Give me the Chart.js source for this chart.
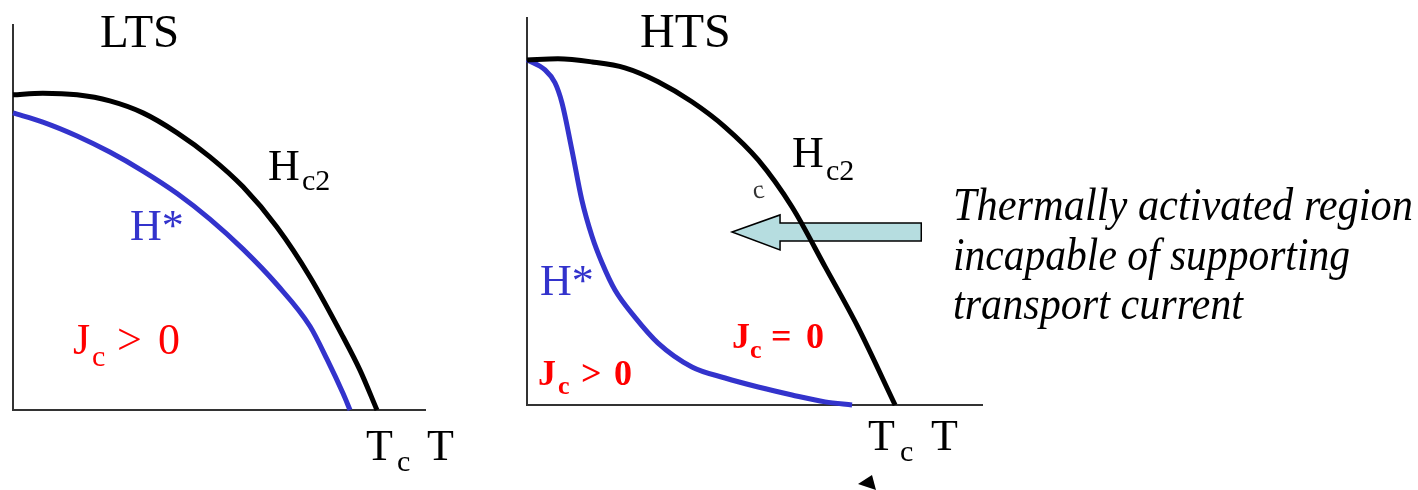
<!DOCTYPE html>
<html>
<head>
<meta charset="utf-8">
<script src="https://cdn.jsdelivr.net/npm/chart.js@4/dist/chart.umd.min.js"></script>
<style>
  html, body { margin: 0; padding: 0; background: #fff; }
  body { width: 1418px; height: 490px; position: relative; overflow: hidden; }
  .layer { position: absolute; left: 0; top: 0; width: 1418px; height: 490px; }
</style>
</head>
<body>
<div class="layer"><canvas id="ltsChart"></canvas></div>
<div class="layer"><canvas id="htsChart"></canvas></div>

<script>
// reduced units: T / Tc along x, H / Hc2(0) along y

// LTS: upper critical field and irreversibility line sit close together
const ltsHc2T = [0, 0.082, 0.176, 0.266, 0.357, 0.451, 0.541, 0.632, 0.725, 0.816, 0.907, 0.953, 1.0];
const ltsHc2H = [0.997, 1.002, 0.997, 0.978, 0.940, 0.877, 0.801, 0.706, 0.579, 0.421, 0.231, 0.127, 0];
const ltsHstarT = [0, 0.082, 0.176, 0.266, 0.357, 0.451, 0.541, 0.632, 0.725, 0.816, 0.863, 0.907, 0.926];
const ltsHstarH = [0.940, 0.911, 0.867, 0.816, 0.756, 0.685, 0.604, 0.509, 0.397, 0.265, 0.160, 0.052, 0];

// HTS: same Hc2 shape, H* falls away early
const htsHc2T = [0, 0.084, 0.177, 0.266, 0.356, 0.448, 0.538, 0.628, 0.720, 0.810, 0.899, 1.0];
const htsHc2H = [0.997, 1.0, 0.991, 0.974, 0.934, 0.876, 0.803, 0.708, 0.572, 0.399, 0.225, 0];
const htsHstarT = [0, 0.049, 0.076, 0.095, 0.122, 0.149, 0.177, 0.204, 0.239, 0.293, 0.356, 0.448, 0.538, 0.628, 0.720, 0.810, 0.883];
const htsHstarH = [0.997, 0.968, 0.931, 0.873, 0.737, 0.592, 0.486, 0.410, 0.332, 0.254, 0.179, 0.110, 0.078, 0.052, 0.029, 0.009, 0];

const BLACK = "#000000";
const BLUE = "#3333cc";
const RED = "#ff0000";
const AXIS = "#333333";
const ARROW_FILL = "#b6dde0";
const SERIF = '"Liberation Serif"';

// text, left x, baseline y, size, colour, weight, style, target width, rotation
const panelLabels = [
  ["LTS", 100, 47, 47, BLACK],
  ["H", 268, 180, 44, BLACK],
  ["c2", 302, 190, 30, BLACK],
  ["H*", 130, 240, 44, BLUE],
  ["J", 73, 354, 44, RED],
  ["c", 92, 366, 30, RED],
  [">", 117, 354, 44, RED],
  ["0", 158, 354, 44, RED],
  ["T", 366, 460, 44, BLACK],
  ["c", 397, 471, 30, BLACK],
  ["T", 427, 460, 44, BLACK],

  ["HTS", 640, 47, 48, BLACK],
  ["H", 792, 167, 44, BLACK],
  ["c2", 826, 180, 30, BLACK],
  ["c", 754, 199, 26, "#333333", "normal", "normal", 0, -10],
  ["H*", 540, 295, 44, BLUE],
  ["J", 732, 348, 36, RED, "bold"],
  ["c", 750, 358, 26, RED, "bold"],
  ["=", 771, 348, 36, RED, "bold"],
  ["0", 806, 348, 36, RED, "bold"],
  ["J", 538, 385, 36, RED, "bold"],
  ["c", 558, 394, 26, RED, "bold"],
  [">", 581, 385, 36, RED, "bold"],
  ["0", 614, 385, 36, RED, "bold"],
  ["T", 868, 450, 44, BLACK],
  ["c", 900, 461, 30, BLACK],
  ["T", 931, 450, 44, BLACK],

  ["Thermally activated region", 953, 220, 46, BLACK, "normal", "italic", 460],
  ["incapable of supporting", 953, 270, 46, BLACK, "normal", "italic", 397],
  ["transport current", 953, 319, 46, BLACK, "normal", "italic", 290],
];

const pts = (xs, ys) => xs.map((x, i) => ({ x, y: ys[i] }));

function curve(xs, ys, color) {
  return {
    data: pts(xs, ys),
    borderColor: color,
    borderWidth: 5,
    pointRadius: 0,
    fill: false,
    cubicInterpolationMode: "monotone",
    borderCapStyle: "butt",
    clip: false,
  };
}

function axis(max) {
  return {
    type: "linear",
    min: 0,
    max,
    ticks: { display: false },
    grid: { display: false, drawTicks: false },
    border: { display: true, color: AXIS, width: 2 },
  };
}

function makePanel(id, datasets, xMax, yMax, padding, plugins = []) {
  return new Chart(document.getElementById(id), {
    type: "line",
    data: { datasets },
    options: {
      responsive: true,
      maintainAspectRatio: false,
      animation: false,
      parsing: false,
      layout: { padding },
      plugins: { legend: { display: false }, tooltip: { enabled: false } },
      scales: { x: axis(xMax), y: axis(yMax) },
    },
    plugins,
  });
}

// block arrow pointing into the gap between H* and Hc2, sits under the curves
const regionArrow = {
  id: "regionArrow",
  beforeDatasetsDraw(chart) {
    const { ctx, scales: { x, y } } = chart;
    const tipX = x.getPixelForValue(0.557);
    const tailX = x.getPixelForValue(1.071);
    const midY = y.getPixelForValue(0.5);
    const headX = tipX + 48;
    ctx.save();
    ctx.beginPath();
    ctx.moveTo(tipX, midY);
    ctx.lineTo(headX, midY - 17);
    ctx.lineTo(headX, midY - 9);
    ctx.lineTo(tailX, midY - 9);
    ctx.lineTo(tailX, midY + 9);
    ctx.lineTo(headX, midY + 9);
    ctx.lineTo(headX, midY + 18);
    ctx.closePath();
    ctx.fillStyle = ARROW_FILL;
    ctx.fill();
    ctx.lineWidth = 1.5;
    ctx.strokeStyle = BLACK;
    ctx.stroke();
    ctx.restore();
  },
  afterDraw(chart) {
    const { ctx } = chart;
    ctx.save();
    // small pointer head under the Tc label
    ctx.beginPath();
    ctx.moveTo(872, 475);
    ctx.lineTo(858, 484);
    ctx.lineTo(876, 490);
    ctx.closePath();
    ctx.fillStyle = BLACK;
    ctx.fill();

    // curve names, region names, axis letters and the note
    ctx.textAlign = "left";
    ctx.textBaseline = "alphabetic";
    panelLabels.forEach(([text, x, y, size, color, weight = "normal", style = "normal", width = 0, rot = 0]) => {
      ctx.save();
      ctx.font = `${style} ${weight} ${size}px ${SERIF}`;
      ctx.fillStyle = color;
      ctx.translate(x, y);
      if (rot) ctx.rotate((rot * Math.PI) / 180);
      if (width) ctx.scale(width / ctx.measureText(text).width, 1);
      ctx.fillText(text, 0, 0);
      ctx.restore();
    });
    ctx.restore();
  },
};

makePanel(
  "ltsChart",
  [curve(ltsHc2T, ltsHc2H, BLACK), curve(ltsHstarT, ltsHstarH, BLUE)],
  1.132, 1.218,
  { left: 13, top: 25, right: 1418 - 425, bottom: 490 - 410 }
);

makePanel(
  "htsChart",
  [curve(htsHc2T, htsHc2H, BLACK), curve(htsHstarT, htsHstarH, BLUE)],
  1.236, 1.118,
  { left: 527, top: 18, right: 1418 - 982, bottom: 490 - 405 },
  [regionArrow]
);
</script>
</body>
</html>
